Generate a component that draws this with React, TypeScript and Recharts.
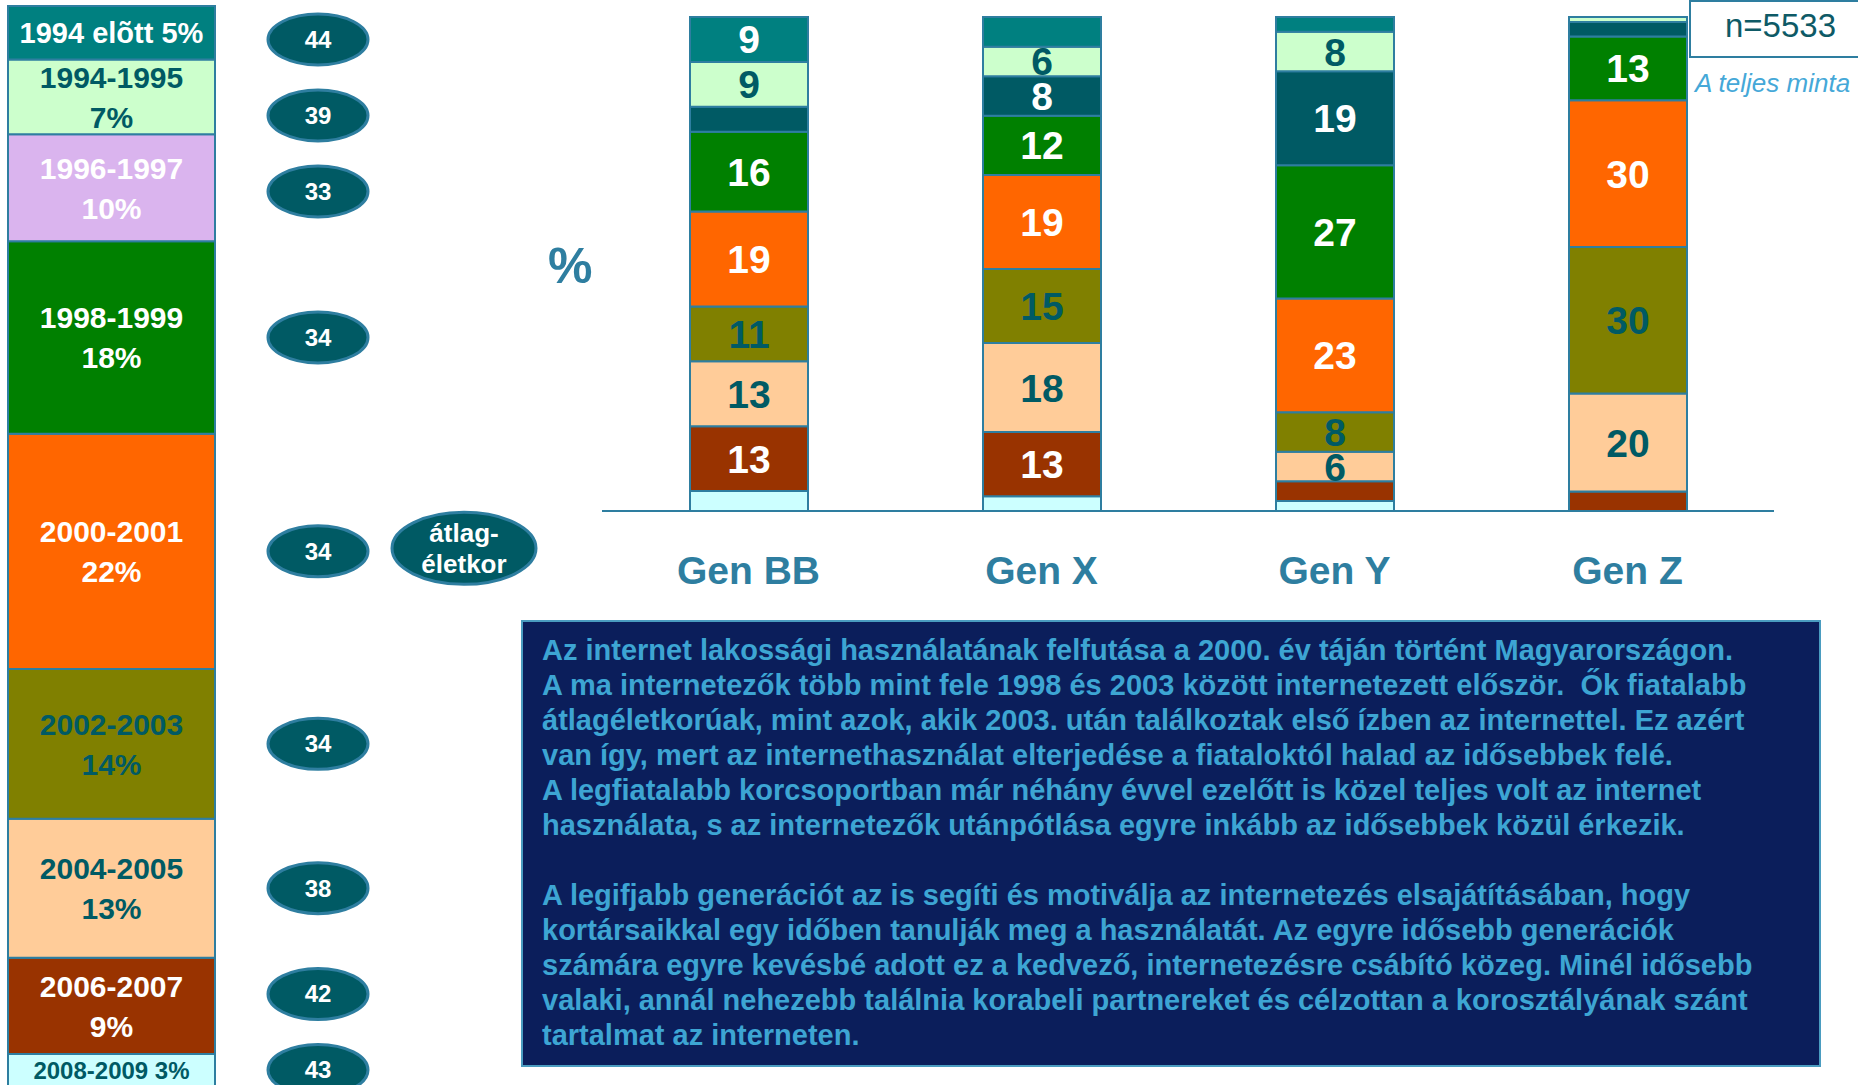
import React from 'react';
import { BarChart, Bar, XAxis, YAxis, LabelList } from 'recharts';

// Periods of first internet use, top-to-bottom order
const periods = ['1994 elõtt', '1994-1995', '1996-1997', '1998-1999', '2000-2001', '2002-2003', '2004-2005', '2006-2007', '2008-2009'];
// Share of the whole sample (%)
const shares = [5, 7, 10, 18, 22, 14, 13, 9, 3];
// Average age per period
const avgAge = [44, 39, 33, 34, 34, 34, 38, 42, 43];

const generations = ['Gen BB', 'Gen X', 'Gen Y', 'Gen Z'];
// per generation, values per period (same order as periods)
const genBB = [9, 9, 5, 16, 19, 11, 13, 13, 4];
const genX = [6, 6, 8, 12, 19, 15, 18, 13, 3];
const genY = [3, 8, 19, 27, 23, 8, 6, 4, 2];
const genZ = [0, 1, 3, 13, 30, 30, 20, 4, 0];
const genValues = [genBB, genX, genY, genZ];

const barColors = ['#008080', '#CCFFCC', '#005A64', '#008000', '#FF6600', '#808000', '#FFCC99', '#993300', '#CCFFFF'];
const legendColors = ['#008080', '#CCFFCC', '#DAB4EE', '#008000', '#FF6600', '#808000', '#FFCC99', '#993300', '#CCFFFF'];
const textColors = ['#FFFFFF', '#005A64', '#FFFFFF', '#FFFFFF', '#FFFFFF', '#005A64', '#005A64', '#FFFFFF', '#005A64'];
const labelMin = [7, 6, 6, 6, 6, 6, 6, 6, 6];

const textLines = [
  'Az internet lakossági használatának felfutása a 2000. év táján történt Magyarországon.',
  'A ma internetezők több mint fele 1998 és 2003 között internetezett először.  Ők fiatalabb',
  'átlagéletkorúak, mint azok, akik 2003. után találkoztak első ízben az internettel. Ez azért',
  'van így, mert az internethasználat elterjedése a fiataloktól halad az idősebbek felé.',
  'A legfiatalabb korcsoportban már néhány évvel ezelőtt is közel teljes volt az internet',
  'használata, s az internetezők utánpótlása egyre inkább az idősebbek közül érkezik.',
  '',
  'A legifjabb generációt az is segíti és motiválja az internetezés elsajátításában, hogy',
  'kortársaikkal egy időben tanulják meg a használatát. Az egyre idősebb generációk',
  'számára egyre kevésbé adott ez a kedvező, internetezésre csábító közeg. Minél idősebb',
  'valaki, annál nehezebb találnia korabeli partnereket és célzottan a korosztályának szánt',
  'tartalmat az interneten.',
];

const FONT = '"Liberation Sans", Arial, sans-serif';
const BORDER = '#2E7EA0';
const ELL_RY = 25.5;
const ELL_GAP = 76;
const LEGEND_TOP = 6;

const legendRow: Record<string, any> = { name: 'all' };
periods.forEach((_, i) => { legendRow['s' + i] = shares[i]; });
const legendData = [legendRow];

const genData = generations.map((g, gi) => {
  const row: Record<string, any> = { name: g };
  periods.forEach((_, pi) => { row['s' + pi] = genValues[gi][pi]; });
  return row;
});

const order = periods.map((_, i) => periods.length - 1 - i); // bottom first

// segment centres collected while the legend bar renders; used to keep the age ellipses apart
const segCenters: number[] = [];
function ellipseYs(): number[] {
  const n = segCenters.length;
  const ys: number[] = [];
  for (let i = 0; i < n; i++) {
    const c = segCenters[i];
    ys[i] = i === 0 ? Math.max(c, LEGEND_TOP + ELL_RY + 8) : Math.max(c, ys[i - 1] + ELL_GAP);
  }
  for (let i = n - 1; i >= 0; i--) {
    ys[i] = i === n - 1 ? Math.min(ys[i], segCenters[i]) : Math.min(ys[i], ys[i + 1] - ELL_GAP);
  }
  return ys;
}

function renderLegendSeg(p: any, si: number) {
  const x = Number(p.x), y = Number(p.y), w = Number(p.width), h = Number(p.height);
  const cx = x + w / 2;
  const cy = y + h / 2;
  segCenters[si] = cy;
  const color = textColors[si];
  const oneLine = shares[si] <= 5;
  const fs = shares[si] < 4 ? 24 : 29;
  return (
    <g>
      {oneLine ? (
        <text x={cx} y={cy} dy={fs * 0.36} textAnchor="middle" fill={color} fontFamily={FONT} fontWeight="bold" fontSize={fs}>
          {periods[si] + ' ' + shares[si] + '%'}
        </text>
      ) : (
        <text textAnchor="middle" fill={color} fontFamily={FONT} fontWeight="bold" fontSize={30}>
          <tspan x={cx} y={cy - 20 + 11}>{periods[si]}</tspan>
          <tspan x={cx} y={cy + 20 + 11}>{shares[si] + '%'}</tspan>
        </text>
      )}
    </g>
  );
}

function valueLabel(p: any, si: number) {
  const gi = Number(p.index);
  const v = genValues[gi][si];
  if (v < labelMin[si]) return null;
  const x = Number(p.x), y = Number(p.y), w = Number(p.width), h = Number(p.height);
  return (
    <text x={x + w / 2} y={y + h / 2} dy={14} textAnchor="middle" fill={textColors[si]} fontFamily={FONT} fontWeight="bold" fontSize={39}>
      {v}
    </text>
  );
}

const GenTick = (props: any) => {
  const { x, y, payload } = props;
  return (
    <text x={x} y={y} dy={65} textAnchor="middle" fill={BORDER} fontFamily={FONT} fontWeight="bold" fontSize={39}>
      {payload.value}
    </text>
  );
};

function LegendColumn() {
  return (
    <BarChart width={540} height={1090} data={legendData} barCategoryGap={0}
      margin={{ top: LEGEND_TOP, right: 325, bottom: 4, left: 8 }}>
      <XAxis dataKey="name" hide />
      <YAxis hide domain={[0, 101]} />
      {order.map((si) => (
        <Bar key={si} dataKey={'s' + si} stackId="l" fill={legendColors[si]} stroke={BORDER} strokeWidth={2} isAnimationActive={false}>
          <LabelList dataKey={'s' + si} content={(p: any) => renderLegendSeg(p, si)} />
        </Bar>
      ))}
    </BarChart>
  );
}

function AgeLayer() {
  const [, force] = React.useState(0);
  React.useEffect(() => { const t = setTimeout(() => force(1), 30); return () => clearTimeout(t); }, []);
  const ready = segCenters.length === periods.length && segCenters.every((c) => c !== undefined);
  if (!ready) return null;
  const ys = ellipseYs();
  const ex = 318;
  const ay = ys[4];
  return (
    <svg width={540} height={1090} style={{ position: 'absolute', left: 0, top: 0 }}>
      {avgAge.map((a, si) => (
        <g key={si}>
          <ellipse cx={ex} cy={ys[si]} rx={50} ry={ELL_RY} fill="#005A64" stroke={BORDER} strokeWidth={3} />
          <text x={ex} y={ys[si]} dy={8.5} textAnchor="middle" fill="#FFFFFF" fontFamily={FONT} fontWeight="bold" fontSize={24}>{a}</text>
        </g>
      ))}
      <ellipse cx={464} cy={ay - 3} rx={72} ry={36} fill="#005A64" stroke={BORDER} strokeWidth={3} />
      <text textAnchor="middle" fill="#FFFFFF" fontFamily={FONT} fontWeight="bold" fontSize={26}>
        <tspan x={464} y={ay - 9}>átlag-</tspan>
        <tspan x={464} y={ay + 22}>életkor</tspan>
      </text>
    </svg>
  );
}

export default function App() {
  return (
    <div style={{ position: 'absolute', left: 0, top: 0, width: 1858, height: 1085, overflow: 'hidden', background: '#FFFFFF', fontFamily: FONT }}>
      <div style={{ position: 'absolute', left: 0, top: 0 }}>
        <BarChart width={1858} height={620} data={genData} stackOffset="expand" barSize={118}
          margin={{ top: 17, right: 84, bottom: 29, left: 602 }}>
          <XAxis dataKey="name" height={80} axisLine={{ stroke: BORDER, strokeWidth: 2 }} tickLine={false} tick={<GenTick />} interval={0} />
          <YAxis hide domain={[0, 1]} />
          {order.map((si) => (
            <Bar key={si} dataKey={'s' + si} stackId="g" fill={barColors[si]} stroke={BORDER} strokeWidth={2} isAnimationActive={false}>
              <LabelList dataKey={'s' + si} content={(p: any) => valueLabel(p, si)} />
            </Bar>
          ))}
        </BarChart>
      </div>

      <div style={{ position: 'absolute', left: 0, top: 0 }}>
        <LegendColumn />
        <AgeLayer />
      </div>

      <div style={{ position: 'absolute', left: 548, top: 236, fontSize: 50, fontWeight: 'bold', color: BORDER, lineHeight: '60px' }}>%</div>

      <div style={{ position: 'absolute', left: 1689, top: 0, width: 180, height: 58, border: '2px solid ' + BORDER, boxSizing: 'border-box', background: '#FFFFFF' }} />
      <div style={{ position: 'absolute', left: 1725, top: 4, fontSize: 33, color: '#0E5A66', lineHeight: '44px' }}>n=5533</div>
      <div style={{ position: 'absolute', left: 1695, top: 68, fontSize: 26, fontStyle: 'italic', color: '#45A8D8', lineHeight: '30px', whiteSpace: 'nowrap' }}>A teljes minta</div>

      <div style={{ position: 'absolute', left: 521, top: 620, width: 1300, height: 447, boxSizing: 'border-box', background: '#0B1E5B', border: '2px solid #4A9CC0', padding: '11px 0 0 19px' }}>
        {textLines.map((t, i) => (
          <div key={i} style={{ fontSize: 29, fontWeight: 'bold', color: '#3DA5D3', lineHeight: '35px', height: 35, whiteSpace: 'pre' }}>{t}</div>
        ))}
      </div>
    </div>
  );
}
